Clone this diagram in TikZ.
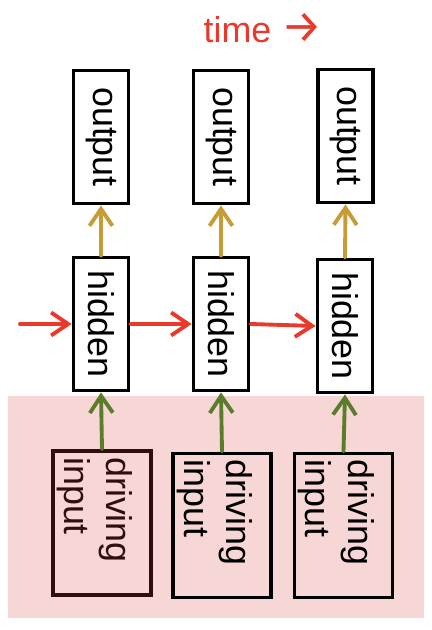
\documentclass[tikz,border=0pt]{standalone}
\usepackage{fontspec}
\setmainfont{Liberation Sans}
\newfontfamily\arrowfont{Fira Sans}
\usepackage{xcolor}
\usepackage{graphicx}
\usepackage{tikz}
\usetikzlibrary{arrows.meta,positioning}

\definecolor{timered}{HTML}{E8392B}
\definecolor{outgold}{HTML}{C79C34}
\definecolor{ingreen}{HTML}{5B7C2B}
\definecolor{inpink}{HTML}{F6D7D5}
\definecolor{darkbrown}{HTML}{2E0E0E}

\begin{document}
\begin{tikzpicture}[
    >={Straight Barb[length=3.4mm,width=4.6mm]},
    font=\fontsize{20.4}{24}\selectfont,
    every node/.style={inner sep=1pt},
    cell/.style={draw, line width=2.2pt, fill=white,
                 minimum width=1.1cm, minimum height=2.66cm},
    inbox/.style={draw, line width=2.2pt,
                  minimum width=1.96cm, minimum height=2.88cm},
    uparrow/.style={->, line width=2.2pt, line cap=round},
    timearrow/.style={->, line width=2.2pt, line cap=round, timered}
]
\useasboundingbox (0,0) rectangle (8.64,12.6);

% Pink band behind the driving inputs
\fill[inpink] (0.16,0.24) rectangle (8.48,4.68);

% Title
\node[timered, anchor=base west] (title) at (4.03,11.74)
  {time {\arrowfont\fontsize{26}{26}\selectfont →}};

% Output layer
\node[cell] (o1) at (2.02,9.86) {\rotatebox{-90}{output}};
\node[cell] (o2) at (4.42,9.86) {\rotatebox{-90}{output}};
\node[cell] (o3) at (6.91,9.88) {\rotatebox{-90}{output}};

% Hidden layer
\node[cell] (h1) at (2.02,6.12) {\rotatebox{-90}{hidden}};
\node[cell] (h2) at (4.42,6.12) {\rotatebox{-90}{hidden}};
\node[cell] (h3) at (6.90,6.08) {\rotatebox{-90}{hidden}};

% Driving inputs
\node[inbox, darkbrown] (d1) at (2.04,2.14) {};
\node[inbox] (d2) at (4.44,2.09) {};
\node[inbox] (d3) at (6.87,2.09) {};

\foreach \i/\c in {1/darkbrown,2/black,3/black}
  \node[\c] at ([shift={(-0.16,0.26)}]d\i.center)
    {\rotatebox{-90}{\begin{tabular}{@{}l@{}}driving\\input\end{tabular}}};

% Arrows
\coordinate (start) at (0.4,6.12);
\draw[timearrow] (start) -- (h1.west);
\draw[timearrow] (h1.east) -- (h2.west);
\draw[timearrow] (h2.east) -- (h3.west);

\foreach \i in {1,2,3} {
  \draw[uparrow, outgold] (h\i.north) -- (o\i.south);
  \draw[uparrow, ingreen] (d\i.north) -- (h\i.south);
}

\end{tikzpicture}
\end{document}
